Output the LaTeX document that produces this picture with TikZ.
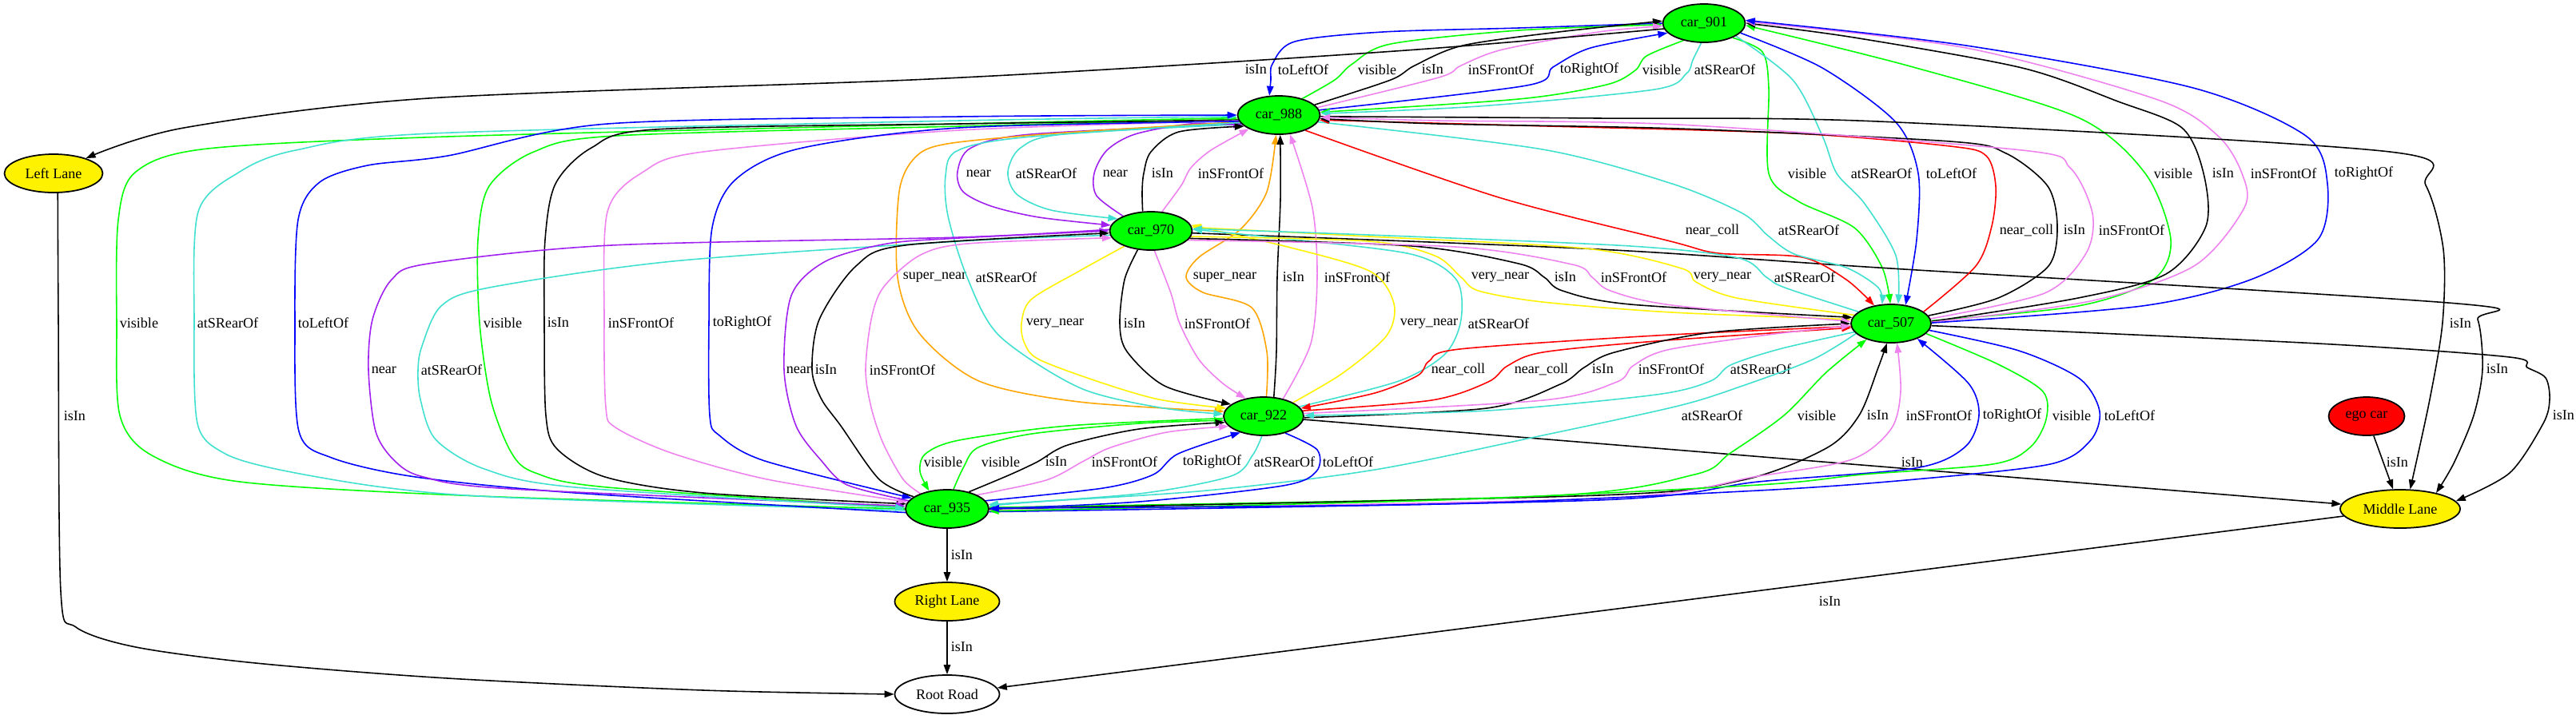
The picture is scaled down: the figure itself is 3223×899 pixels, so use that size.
\documentclass[tikz,border=0pt]{standalone}
\usepackage{fontspec}
\setmainfont{Liberation Serif}
\usetikzlibrary{arrows.meta,shapes.geometric,backgrounds}
\definecolor{gvviolet}{RGB}{238,130,238}
\definecolor{gvturq}{RGB}{64,224,208}
\definecolor{gvpurple}{RGB}{160,32,240}
\definecolor{gvorange}{RGB}{255,165,0}
\begin{document}
\begin{tikzpicture}[x=0.1mm,y=-0.1mm,
  every node/.style={font=\fontsize{5.15}{6}\selectfont},
  obj/.style={ellipse,draw,line width=0.5pt,inner sep=0pt,minimum height=4.8mm},
  car/.style={obj,fill=green,minimum width=10.3mm},
  lane/.style={obj,fill=yellow},
  rel/.style={line width=0.45pt,-{Triangle[length=1.2mm,width=0.85mm]}},
  lbl/.style={anchor=west,inner sep=0pt,text=black},
  sm/.style={smooth,tension=0.5}]
  \useasboundingbox (0,0) rectangle (3223,899);
  \node[car] (c901) at (2132,29) {car\_901};
  \node[car] (c988) at (1600,144) {car\_988};
  \node[car] (c970) at (1440,289) {car\_970};
  \node[car,minimum width=10mm] (c507) at (2366,405) {car\_507};
  \node[car,minimum width=10mm] (c922) at (1581,521) {car\_922};
  \node[car,minimum width=10.4mm] (c935) at (1185,637) {car\_935};
  \node[obj,fill=red,minimum width=9.5mm] (ego) at (2961,521) {ego car};
  \node[lane,minimum width=12.3mm] (leftlane) at (67,217) {Left Lane};
  \node[lane,minimum width=15mm] (midlane) at (3003,637) {Middle Lane};
  \node[lane,minimum width=13.1mm] (rightlane) at (1185,753) {Right Lane};
  \node[obj,minimum width=13.1mm] (road) at (1185,869) {Root Road};
  \begin{scope}[on background layer]
  \draw[rel,blue] plot[sm] coordinates {(c901.180) (1900,35) (1730,40) (1620,52) (1592,80) (1590,100) (c988.116)} node[lbl] at (1598,87) {toLeftOf};
  \draw[rel,green] plot[sm] coordinates {(c988.35) (1670,100) (1692,80) (1740,55) (1900,38) (c901.182)} node[lbl] at (1698,87) {visible};
  \draw[rel] plot[sm] coordinates {(c988.16) (1740,100) (1770,82) (1830,57) (1950,40) (c901.177)} node[lbl] at (1778,87) {isIn};
  \draw[rel,gvviolet] plot[sm] coordinates {(c988.11) (1800,97) (1828,82) (1880,62) (2000,40) (c901.184)} node[lbl] at (1836,87) {inSFrontOf};
  \draw[rel,blue] plot[sm] coordinates {(c988.7) (1910,107) (1943,84) (1990,60) (c901.195)} node[lbl] at (1951,87) {toRightOf};
  \draw[rel,green] plot[sm] coordinates {(c901.220) (2060,70) (2046,88) (2010,106) (1900,124) (c988.4)} node[lbl] at (2054,87) {visible};
  \draw[rel,gvturq] plot[sm] coordinates {(c901.262) (2118,75) (2110,92) (2070,112) (1850,133) (c988.2)} node[lbl] at (2119,87) {atSRearOf};
  \draw[rel] plot[sm] coordinates {(c901.188) (1800,60) (1500,80) (1140,100) (536,123) (230,160) (leftlane.25)} node[lbl] at (1557,87) {isIn};
  \draw[rel,green] plot[sm] coordinates {(c901.333) (2205,65) (2213,110) (2213,217) (2250,252) (2320,285) (2355,335) (c507.92)} node[lbl] at (2236,217) {visible};
  \draw[rel,gvturq] plot[sm] coordinates {(c901.338) (2243,100) (2280,170) (2298,217) (2333,255) (2372,320) (c507.70)} node[lbl] at (2315,217) {atSRearOf};
  \draw[rel,blue] plot[sm] coordinates {(c901.345) (2280,85) (2372,153) (2400,217) (2398,300) (c507.52)} node[lbl] at (2409,217) {toLeftOf};
  \draw[rel,green] plot[sm] coordinates {(c507.4) (2600,383) (2694,350) (2716,300) (2684,217) (2600,147) (2390,83) (c901.357)} node[lbl] at (2694,217) {visible};
  \draw[rel] plot[sm] coordinates {(c507.3) (2600,373) (2710,343) (2760,283) (2757,217) (2730,160) (2650,127) (2530,85) (2320,47) (c901.0)} node[lbl] at (2767,217) {isIn};
  \draw[rel,gvviolet] plot[sm] coordinates {(c507.2) (2615,377) (2745,333) (2808,260) (2805,217) (2775,170) (2700,125) (2460,60) (c901.2)} node[lbl] at (2815,217) {inSFrontOf};
  \draw[rel,blue] plot[sm] coordinates {(c507.1) (2680,383) (2816,350) (2900,300) (2912,230) (2885,170) (2744,110) (2460,57) (c901.4)} node[lbl] at (2920,217) {toRightOf};
  \draw[rel] plot[sm] coordinates {(c988.358) (2000,148) (2350,152) (2990,190) (3035,232) (3057,312) (3056,404) (3040,500) (midlane.63)} node[lbl] at (3064,405) {isIn};
  \draw[rel] plot[sm] coordinates {(c970.357) (2000,312) (2350,335) (3075,380) (3100,400) (3106,462) (3095,520) (3070,580) (midlane.24)} node[lbl] at (3110,462) {isIn};
  \draw[rel] plot[sm] coordinates {(c507.357) (2900,430) (3140,447) (3162,460) (3185,473) (3190,500) (3182,530) (3140,592) (midlane.8)} node[lbl] at (3193,520) {isIn};
  \draw[rel] (ego) -- (midlane) node[lbl] at (2985,579) {isIn};
  \draw[rel] (c922) -- (midlane) node[lbl] at (2378,579) {isIn};
  \draw[rel] (midlane) -- (road) node[lbl] at (2275,753) {isIn};
  \draw[rel] (c935) -- (rightlane) node[lbl] at (1189,695) {isIn};
  \draw[rel] (rightlane) -- (road) node[lbl] at (1189,810) {isIn};
  \draw[rel] plot[sm] coordinates {(leftlane.282) (73,400) (76,740) (95,785) (170,810) (320,830) (560,849) (880,864) (road.180)} node[lbl] at (79,521) {isIn};
  \draw[rel,gvpurple] plot[sm] coordinates {(c988.193) (1290,168) (1215,185) (1198,215) (1205,240) (1240,258) (1300,272) (c970.172)} node[lbl] at (1208,217) {near};
  \draw[rel,gvturq] plot[sm] coordinates {(c988.194) (1330,168) (1277,185) (1261,215) (1272,243) (1315,263) (c970.160)} node[lbl] at (1270,217) {atSRearOf};
  \draw[rel,gvpurple] plot[sm] coordinates {(c970.152) (1372,245) (1369,217) (1385,188) (1420,168) (1490,155) (c988.196)} node[lbl] at (1379,217) {near};
  \draw[rel] plot[sm] coordinates {(c970.113) (1429,240) (1431,217) (1440,190) (1475,165) (c988.198)} node[lbl] at (1440,217) {isIn};
  \draw[rel,gvviolet] plot[sm] coordinates {(c970.60) (1478,232) (1490,210) (1515,188) (c988.205)} node[lbl] at (1498,217) {inSFrontOf};
  \draw[rel,gvorange] plot[sm] coordinates {(c988.190) (1320,167) (1185,180) (1145,197) (1125,240) (1123,347) (1150,417) (1225,477) (1350,503) (c922.173)} node[lbl] at (1129,347) {super\_near};
  \draw[rel,gvturq] plot[sm] coordinates {(c988.191) (1280,172) (1197,189) (1183,220) (1186,270) (1210,347) (1250,420) (1350,485) (1450,510) (c922.177)} node[lbl] at (1220,347) {atSRearOf};
  \draw[rel,gvorange] plot[sm] coordinates {(c922.82) (1585,440) (1566,385) (1505,366) (1484,347) (1500,322) (1552,287) (1585,240) (c988.262)} node[lbl] at (1492,347) {super\_near};
  \draw[rel] plot[sm] coordinates {(c922.62) (1597,440) (1598,347) (1602,250) (c988.274)} node[lbl] at (1604,347) {isIn};
  \draw[rel,gvviolet] plot[sm] coordinates {(c922.42) (1640,430) (1648,347) (1642,260) (c988.300)} node[lbl] at (1656,347) {inSFrontOf};
  \draw[rel,red] plot[sm] coordinates {(c988.330) (1875,247) (2090,302) (2150,317) (2255,322) (2310,350) (c507.133)} node[lbl] at (2108,288) {near\_coll};
  \draw[rel,gvturq] plot[sm] coordinates {(c988.350) (1930,187) (2092,230) (2180,267) (2212,295) (2245,318) (2310,335) (2350,360) (c507.115)} node[lbl] at (2224,288) {atSRearOf};
  \draw[rel,red] plot[sm] coordinates {(c507.20) (2472,333) (2492,283) (2497,233) (2485,195) (2440,183) (2245,167) (1900,157) (c988.353)} node[lbl] at (2501,288) {near\_coll};
  \draw[rel] plot[sm] coordinates {(c507.12) (2500,373) (2563,333) (2574,283) (2562,233) (2510,192) (2440,177) (2100,161) (1800,155) (c988.355)} node[lbl] at (2581,288) {isIn};
  \draw[rel,gvviolet] plot[sm] coordinates {(c507.7) (2558,367) (2610,317) (2618,267) (2590,210) (2530,188) (2100,156) (1800,151) (c988.357)} node[lbl] at (2625,288) {inSFrontOf};
  \draw[rel,green] plot[sm] coordinates {(c935.180) (600,621) (300,603) (190,570) (150,520) (146,404) (148,275) (170,215) (260,186) (560,171) (1200,155) (c988.184)} node[lbl] at (149,404) {visible};
  \draw[rel,gvturq] plot[sm] coordinates {(c935.182) (640,623) (480,610) (345,587) (280,567) (247,530) (243,404) (248,265) (300,215) (370,188) (540,167) (1200,151) (c988.182)} node[lbl] at (246,404) {atSRearOf};
  \draw[rel,blue] plot[sm] coordinates {(c935.185) (720,617) (520,597) (415,573) (374,540) (369,404) (373,275) (400,228) (460,207) (560,195) (760,155) (1200,146) (c988.180)} node[lbl] at (372,404) {toLeftOf};
  \draw[rel,green] plot[sm] coordinates {(c988.186) (1200,158) (770,170) (668,190) (612,233) (598,300) (600,404) (614,500) (640,567) (670,592) (760,610) (c935.178)} node[lbl] at (604,404) {visible};
  \draw[rel] plot[sm] coordinates {(c988.187) (1200,155) (820,162) (740,185) (695,230) (682,300) (681,404) (683,520) (697,562) (757,597) (880,617) (c935.173)} node[lbl] at (684,404) {isIn};
  \draw[rel,gvviolet] plot[sm] coordinates {(c988.188) (1200,163) (880,190) (805,215) (760,265) (756,404) (758,510) (770,535) (840,567) (960,600) (c935.170)} node[lbl] at (760,404) {inSFrontOf};
  \draw[rel,blue] plot[sm] coordinates {(c988.189) (1200,160) (1000,186) (920,225) (891,285) (887,404) (888,520) (900,545) (957,577) (c935.163)} node[lbl] at (891,404) {toRightOf};
  \draw[rel,gvpurple] plot[sm] coordinates {(c970.178) (1200,297) (765,307) (536,330) (490,350) (466,400) (461,463) (470,540) (494,577) (530,597) (640,612) (c935.176)} node[lbl] at (464,463) {near};
  \draw[rel,gvturq] plot[sm] coordinates {(c970.186) (1200,302) (842,327) (612,360) (552,383) (528,433) (523,463) (526,500) (545,550) (606,587) (720,610) (c935.179)} node[lbl] at (526,463) {atSRearOf};
  \draw[rel,gvpurple] plot[sm] coordinates {(c935.168) (1060,607) (1028,577) (996,533) (981,463) (990,370) (1033,327) (1110,305) (1200,298) (c970.180)} node[lbl] at (983,463) {near};
  \draw[rel] plot[sm] coordinates {(c935.160) (1100,600) (1052,533) (1028,500) (1016,463) (1025,400) (1071,333) (1132,307) (c970.183)} node[lbl] at (1019,463) {isIn};
  \draw[rel,gvviolet] plot[sm] coordinates {(c935.150) (1130,600) (1105,555) (1090,510) (1083,463) (1090,400) (1105,360) (1150,320) (1210,305) (c970.190)} node[lbl] at (1087,463) {inSFrontOf};
  \draw[rel,yellow] plot[sm] coordinates {(c970.210) (1349,340) (1290,375) (1278,405) (1282,430) (1300,450) (1375,478) (1450,500) (c922.168)} node[lbl] at (1283,405) {very\_near};
  \draw[rel] plot[sm] coordinates {(c970.235) (1407,350) (1401,405) (1410,440) (1457,483) (c922.160)} node[lbl] at (1405,405) {isIn};
  \draw[rel,gvviolet] plot[sm] coordinates {(c970.280) (1465,367) (1476,405) (1500,450) (1530,480) (c922.135)} node[lbl] at (1481,405) {inSFrontOf};
  \draw[rel,yellow] plot[sm] coordinates {(c922.25) (1680,467) (1735,420) (1744,380) (1715,340) (1615,310) (c970.8)} node[lbl] at (1751,405) {very\_near};
  \draw[rel,gvturq] plot[sm] coordinates {(c922.15) (1750,477) (1808,443) (1828,400) (1822,350) (1765,318) (1600,298) (c970.2)} node[lbl] at (1836,405) {atSRearOf};
  \draw[rel,yellow] plot[sm] coordinates {(c970.352) (1713,302) (1795,320) (1828,347) (1850,364) (1930,378) (2092,391) (c507.174)} node[lbl] at (1840,347) {very\_near};
  \draw[rel] plot[sm] coordinates {(c970.349) (1767,308) (1900,330) (1932,347) (1955,364) (2040,381) (c507.171)} node[lbl] at (1944,347) {isIn};
  \draw[rel,gvviolet] plot[sm] coordinates {(c970.346) (1821,309) (1967,331) (1992,347) (2015,364) (2092,382) (c507.177)} node[lbl] at (2002,347) {inSFrontOf};
  \draw[rel,yellow] plot[sm] coordinates {(c507.167) (2173,373) (2122,353) (2104,336) (1984,311) (1713,296) (c970.5)} node[lbl] at (2118,347) {very\_near};
  \draw[rel,gvturq] plot[sm] coordinates {(c507.160) (2233,360) (2210,347) (2175,323) (2040,308) (1713,294) (c970.3)} node[lbl] at (2219,347) {atSRearOf};
  \draw[rel,red] plot[sm] coordinates {(c507.184) (2072,420) (1826,437) (1788,452) (1774,470) (1720,492) (c922.12)} node[lbl] at (1790,462) {near\_coll};
  \draw[rel,red] plot[sm] coordinates {(c922.8) (1791,501) (1862,478) (1886,458) (1930,441) (2072,427) (c507.186)} node[lbl] at (1894,462) {near\_coll};
  \draw[rel] plot[sm] coordinates {(c922.358) (1860,511) (1952,481) (1982,460) (2020,441) (2142,416) (c507.180)} node[lbl] at (1991,462) {isIn};
  \draw[rel,gvviolet] plot[sm] coordinates {(c922.4) (1931,501) (2023,478) (2043,458) (2086,438) (2212,419) (c507.183)} node[lbl] at (2049,462) {inSFrontOf};
  \draw[rel,gvturq] plot[sm] coordinates {(c507.193) (2226,437) (2165,457) (2140,477) (2072,494) (1861,514) (c922.1)} node[lbl] at (2164,462) {atSRearOf};
  \draw[rel,gvturq] plot[sm] coordinates {(c507.196) (2268,450) (2180,483) (2100,508) (1930,545) (1720,588) (1510,614) (1300,628) (c935.4)} node[lbl] at (2103,520) {atSRearOf};
  \draw[rel,green] plot[sm] coordinates {(c935.2) (1930,621) (2120,594) (2165,567) (2232,520) (2285,466) (c507.213)} node[lbl] at (2248,520) {visible};
  \draw[rel] plot[sm] coordinates {(c935.0) (2000,620) (2180,601) (2285,561) (2326,520) (2350,460) (c507.258)} node[lbl] at (2335,520) {isIn};
  \draw[rel,gvviolet] plot[sm] coordinates {(c935.358) (2000,624) (2200,596) (2317,575) (2366,537) (2378,490) (c507.287)} node[lbl] at (2384,520) {inSFrontOf};
  \draw[rel,blue] plot[sm] coordinates {(c935.356) (2000,626) (2200,603) (2396,586) (2458,560) (2476,520) (2463,480) (c507.330)} node[lbl] at (2480,520) {toRightOf};
  \draw[rel,green] plot[sm] coordinates {(c507.344) (2500,456) (2556,490) (2560,525) (2540,560) (2493,581) (2330,594) (2200,607) (1800,626) (c935.357)} node[lbl] at (2567,520) {visible};
  \draw[rel,blue] plot[sm] coordinates {(c507.350) (2526,439) (2602,474) (2627,515) (2615,552) (2565,581) (2396,600) (2200,614) (1800,631) (c935.1)} node[lbl] at (2632,520) {toLeftOf};
  \draw[rel,green] plot[sm] coordinates {(c922.183) (1336,533) (1200,551) (1158,568) (1151,590) (c935.135)} node[lbl] at (1155,578) {visible};
  \draw[rel,green] plot[sm] coordinates {(c935.72) (1206,584) (1224,560) (1291,543) (1425,530) (c922.186)} node[lbl] at (1227,578) {visible};
  \draw[rel] plot[sm] coordinates {(c935.38) (1264,594) (1298,578) (1336,557) (1425,537) (c922.189)} node[lbl] at (1307,578) {isIn};
  \draw[rel,gvviolet] plot[sm] coordinates {(c935.25) (1309,601) (1356,577) (1390,560) (1460,541) (c922.196)} node[lbl] at (1365,578) {inSFrontOf};
  \draw[rel,blue] plot[sm] coordinates {(c935.12) (1380,611) (1443,594) (1474,568) (c922.215)} node[lbl] at (1479,578) {toRightOf};
  \draw[rel,gvturq] plot[sm] coordinates {(c922.265) (1567,570) (1540,596) (1425,618) (c935.6)} node[lbl] at (1568,578) {atSRearOf};
  \draw[rel,blue] plot[sm] coordinates {(c922.322) (1648,563) (1647,590) (1605,608) (1425,628) (c935.0)} node[lbl] at (1654,578) {toLeftOf};
  \end{scope}
\end{tikzpicture}
\end{document}
